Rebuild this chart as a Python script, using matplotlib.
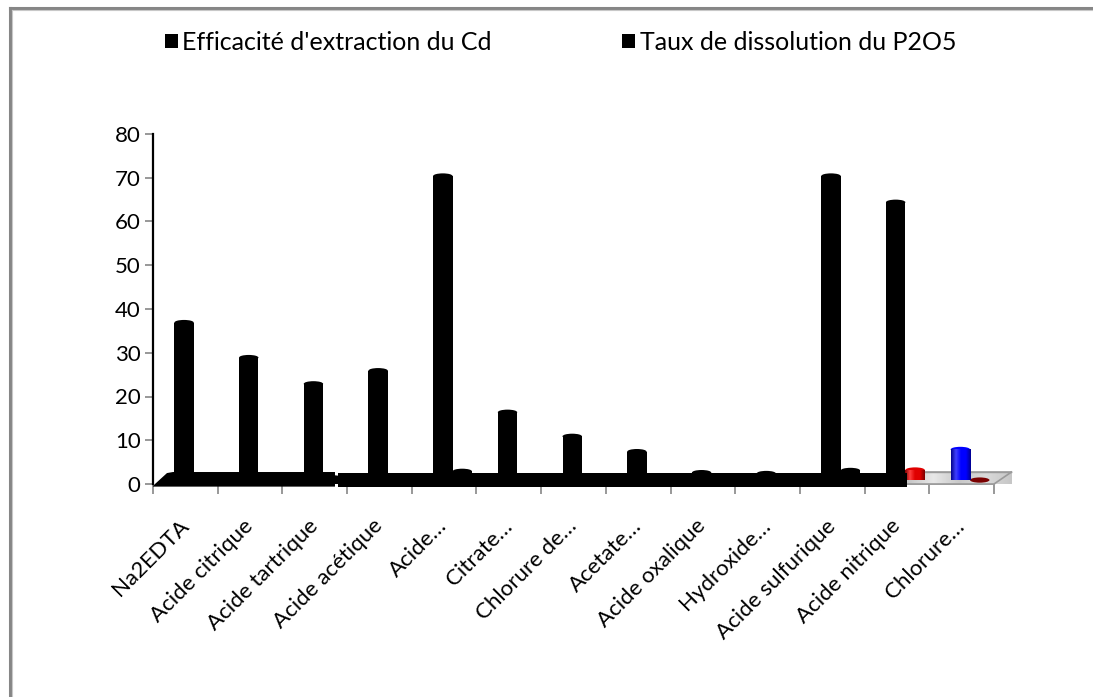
import numpy as np
import matplotlib
matplotlib.use("Agg")
import matplotlib.pyplot as plt
from matplotlib.patches import Polygon, Ellipse, Rectangle, Patch
from matplotlib.lines import Line2D
from matplotlib.colors import LinearSegmentedColormap

plt.rcParams['font.family'] = ['Lato', 'DejaVu Sans']

# ---- data -------------------------------------------------------------
categories = ["Na2EDTA", "Acide citrique", "Acide tartrique", "Acide acétique",
              "Acide…", "Citrate…", "Chlorure de…", "Acetate…",
              "Acide oxalique", "Hydroxide…", "Acide sulfurique",
              "Acide nitrique", "Chlorure…"]
cd_extraction = [37.5, 29.5, 23.5, 26.5, 71, 17, 11.5, 8, 3.2, 3.0, 71, 65, 8.5]
p2o5_dissolution = [2, 2, 2, 2, 3.5, 2, 2, 2, 2, 2, 3.7, 3.8, 0.4]
series_names = ["Efficacité d'extraction du Cd", "Taux de dissolution du P2O5"]
yticks = [0, 10, 20, 30, 40, 50, 60, 70, 80]

# ---- styling ----------------------------------------------------------
cd_colors = ["black"] * 12 + ["#0000ff"]
p2o5_colors = ["black"] * 11 + ["#e00000", "#7a0000"]
W, H = 1093, 697
bar_w = 0.3
cd_off, p_off = -0.02, 0.28
cap_h = 1.2          # height of the rounded bar top, in data units
floor_top = 2.74     # back edge of the 3-D floor
base_3d = 0.9        # where coloured bars stand on the grey floor

fig = plt.figure(figsize=(W / 100, H / 100), dpi=100)
ax = fig.add_axes([153 / W, (H - 484) / H, 841 / W, 350 / H])

n = len(categories)
x = np.arange(n)

# black floor band (two slabs split by a thin white seam)
left_slab = Polygon([(-0.5, -0.45), (-0.469, 0.0), (-0.284, 2.5), (-0.191, floor_top),
                     (2.313, floor_top), (2.313, -0.6), (-0.5, -0.6)],
                    closed=True, facecolor="black", edgecolor="none",
                    zorder=5, clip_on=False)
right_slab = Polygon([(2.36, 2.51), (11.154, 2.51), (11.154, -0.75), (2.36, -0.75)],
                     closed=True, facecolor="black", edgecolor="none",
                     zorder=5, clip_on=False)
ax.add_patch(left_slab)
ax.add_patch(right_slab)

# grey floor under the last categories
floor_poly = Polygon([(11.154, floor_top), (12.77, floor_top), (12.5, 0.0), (11.154, 0.0)],
                     closed=True, facecolor="#d4d4d4", edgecolor="#9a9a9a",
                     linewidth=1.2, zorder=2, clip_on=False)
ax.add_patch(floor_poly)
floor_cmap = LinearSegmentedColormap.from_list(
    "floor", ["#c4c4c4", "#e8e8e8", "#c8c8c8", "#dadada", "#c6c6c6"])
grad = np.linspace(0, 1, 256).reshape(1, -1)
im = ax.imshow(grad, extent=[11.154, 12.77, 0.0, floor_top], cmap=floor_cmap,
               aspect="auto", zorder=2.1, clip_on=False)
im.set_clip_path(floor_poly)
ax.plot([11.154, 12.5, 12.77], [0.0, 0.0, floor_top], color="#9a9a9a",
        lw=1.2, zorder=2.2, clip_on=False)
ax.plot([11.154, 12.77], [floor_top, floor_top], color="#9a9a9a",
        lw=1.0, zorder=2.2, clip_on=False)


def shaded(color):
    c = matplotlib.colors.to_rgb(color)
    dark = tuple(v * 0.55 for v in c)
    light = tuple(min(1, v + 0.25) for v in c)
    return LinearSegmentedColormap.from_list("s", [dark, light, c, c, dark])


def draw_bar(xc, val, color, z):
    bottom = 0.0 if color == "black" else base_3d
    top_body = max(val - cap_h / 2, bottom)
    rect = Rectangle((xc - bar_w / 2, bottom), bar_w, top_body - bottom,
                     facecolor=color, edgecolor="none", zorder=z)
    ax.add_patch(rect)
    cap = Ellipse((xc, top_body), bar_w, cap_h, facecolor=color,
                  edgecolor="none", zorder=z)
    ax.add_patch(cap)
    if color != "black":
        g = ax.imshow(grad, extent=[xc - bar_w / 2, xc + bar_w / 2, bottom, val],
                      cmap=shaded(color), aspect="auto", zorder=z + 0.05)
        g.set_clip_path(rect)


for i in range(n):
    draw_bar(x[i] + p_off, p2o5_dissolution[i], p2o5_colors[i], 3)
    draw_bar(x[i] + cd_off, cd_extraction[i], cd_colors[i], 4)

ax.set_xlim(-0.5, n - 0.5)
ax.set_ylim(0, 80)

# axes, ticks and labels
for s in ["top", "right"]:
    ax.spines[s].set_visible(False)
ax.spines["left"].set_color("black")
ax.spines["left"].set_linewidth(1.6)
ax.spines["bottom"].set_visible(False)
ax.set_yticks(yticks)
ax.set_yticklabels([str(v) for v in yticks], fontsize=16)
ax.tick_params(axis="y", length=6, width=1.2, color="#868686", pad=3)
ax.set_xticks(np.arange(-0.5, n, 1.0))
ax.set_xticklabels([])
ax.tick_params(axis="x", length=7, width=1.2, color="#868686", direction="out")
ax.set_xticks(x, minor=True)
ax.set_xticklabels(categories, minor=True, rotation=45, ha="right",
                   rotation_mode="anchor", fontsize=16)
ax.tick_params(axis="x", which="minor", length=0, pad=28)
for lbl in ax.get_xticklabels(minor=True):
    lbl.set_verticalalignment("center")
ax.set_facecolor("none")

# legend
handles = [Patch(facecolor="black", edgecolor="none"),
           Patch(facecolor="black", edgecolor="none")]
fig.legend(handles, series_names, loc="center left",
           bbox_to_anchor=(155 / W, 1 - 42 / H), ncol=2, frameon=False,
           fontsize=18, handlelength=0.5, handleheight=0.5,
           handletextpad=0.2, columnspacing=5.2, borderaxespad=0)

# outer frame of the chart area
fig.add_artist(Line2D([9.5 / W, 9.5 / W], [0, 1 - 8 / H], color="#868686",
                      lw=2.2, transform=fig.transFigure))
fig.add_artist(Line2D([9.5 / W, 1], [1 - 8 / H, 1 - 8 / H], color="#868686",
                      lw=2.2, transform=fig.transFigure))
fig.add_artist(Line2D([11.5 / W, 11.5 / W], [0, 1 - 10 / H], color="#c8c8c8",
                      lw=0.8, transform=fig.transFigure))
fig.add_artist(Line2D([11.5 / W, 1], [1 - 10 / H, 1 - 10 / H], color="#c8c8c8",
                      lw=0.8, transform=fig.transFigure))

fig.savefig("out.png", dpi=100, facecolor="white")
